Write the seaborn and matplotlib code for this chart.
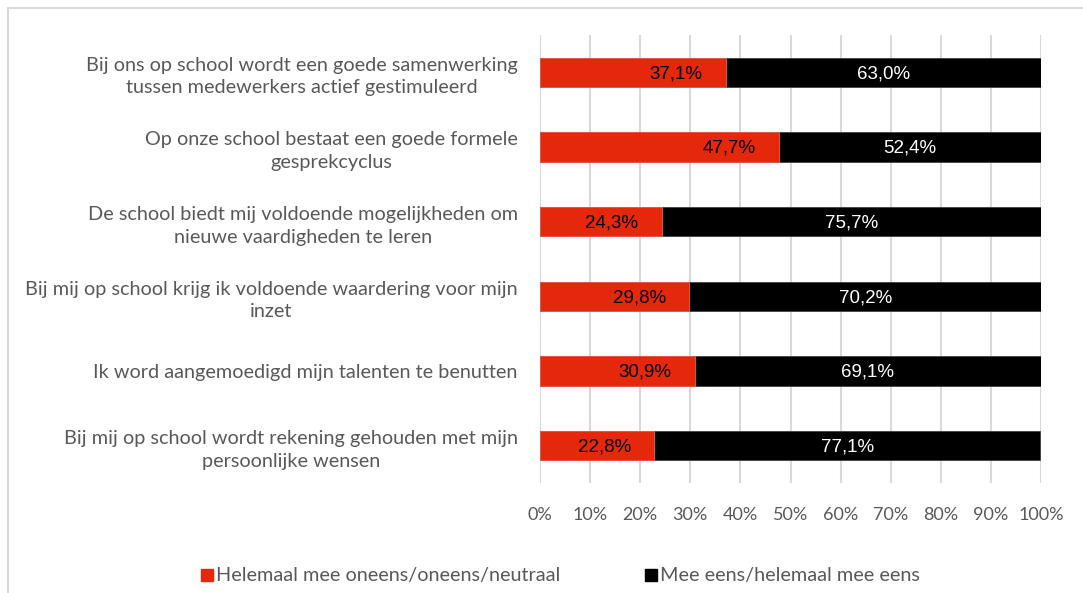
import matplotlib
matplotlib.use("Agg")
import matplotlib.pyplot as plt
from matplotlib.patches import Rectangle
import seaborn as sns
import pandas as pd

# Survey statements (top to bottom) and the share of answers per group, in %
statements = [
    "Bij ons op school wordt een goede samenwerking\ntussen medewerkers actief gestimuleerd",
    "Op onze school bestaat een goede formele\ngesprekcyclus",
    "De school biedt mij voldoende mogelijkheden om\nnieuwe vaardigheden te leren",
    "Bij mij op school krijg ik voldoende waardering voor mijn\ninzet",
    "Ik word aangemoedigd mijn talenten te benutten",
    "Bij mij op school wordt rekening gehouden met mijn\npersoonlijke wensen",
]
disagree = [37.1, 47.7, 24.3, 29.8, 30.9, 22.8]
agree = [63.0, 52.4, 75.7, 70.2, 69.1, 77.1]
series_names = ["Helemaal mee oneens/oneens/neutraal", "Mee eens/helemaal mee eens"]
x_ticks = [0, 10, 20, 30, 40, 50, 60, 70, 80, 90, 100]

RED = "#E5270B"
BLACK = "#000000"
GRAY_TEXT = "#595959"
GRID = "#D9D9D9"

df = pd.DataFrame({
    "statement": statements,
    "disagree": disagree,
    "agree": agree,
})
df["total"] = df["disagree"] + df["agree"]

sns.set_theme(style="white")
plt.rcParams["font.family"] = ["Lato", "DejaVu Sans"]

fig = plt.figure(figsize=(10.83, 5.93), dpi=100)
ax = fig.add_axes([540 / 1083, 1 - 483 / 593, 501 / 1083, 448 / 593])

# stacked bars: full bar in black, the first segment drawn on top in red
sns.barplot(data=df, y="statement", x="total", orient="h", color=BLACK,
            width=0.39, ax=ax, saturation=1, edgecolor="#404040", linewidth=0.6,
            zorder=3)
sns.barplot(data=df, y="statement", x="disagree", orient="h", color=RED,
            width=0.39, ax=ax, saturation=1, edgecolor="#F0604A", linewidth=0.6,
            zorder=4)

ax.set_xlim(0, 100)
ax.set_ylim(len(statements) - 0.5, -0.5)
ax.set_xticks(x_ticks)
ax.set_xticklabels([f"{v}%" for v in x_ticks])
ax.set_xlabel("")
ax.set_ylabel("")
ax.grid(axis="x", color=GRID, linewidth=1.5, zorder=0)
ax.grid(axis="y", visible=False)
ax.set_axisbelow(True)
for s in ax.spines.values():
    s.set_visible(False)

ax.tick_params(axis="x", length=0, pad=17, labelsize=13, labelcolor=GRAY_TEXT)
ax.tick_params(axis="y", length=0, pad=16, labelsize=14.3, labelcolor=GRAY_TEXT)
for t in ax.get_yticklabels():
    t.set_multialignment("center")
    t.set_linespacing(1.4)

# value labels inside each segment
def fmt(v):
    return f"{v:.1f}%".replace(".", ",")

for i, (d, a) in enumerate(zip(disagree, agree)):
    ax.annotate(fmt(d), xy=(d, i), xytext=(-36, -1), textcoords="offset points",
                ha="center", va="center", color="black",
                fontsize=13.5, family=["Liberation Sans"], zorder=6)
    ax.annotate(fmt(a), xy=(d + a / 2, i), xytext=(0, -1), textcoords="offset points",
                ha="center", va="center", color="white",
                fontsize=13.5, family=["Liberation Sans"], zorder=6)

# legend below the chart
handles = [
    plt.Line2D([], [], marker="s", linestyle="none", markersize=9,
               markerfacecolor=c, markeredgecolor=c)
    for c in (RED, BLACK)
]
fig.legend(handles, series_names, loc="center", bbox_to_anchor=(0.518, 1 - 576 / 593),
           ncol=2, frameon=False, fontsize=14.3, labelcolor=GRAY_TEXT,
           handlelength=0.5, handletextpad=0.2, columnspacing=4.3,
           borderaxespad=0)

# light frame around the chart area
fig.patches.append(Rectangle((8 / 1083, -0.05), 1.1, 1 - 7.5 / 593 + 0.05,
                             transform=fig.transFigure, fill=False,
                             edgecolor="#D9D9D9", linewidth=1.5))

fig.savefig("out.png", dpi=100, facecolor="white")
